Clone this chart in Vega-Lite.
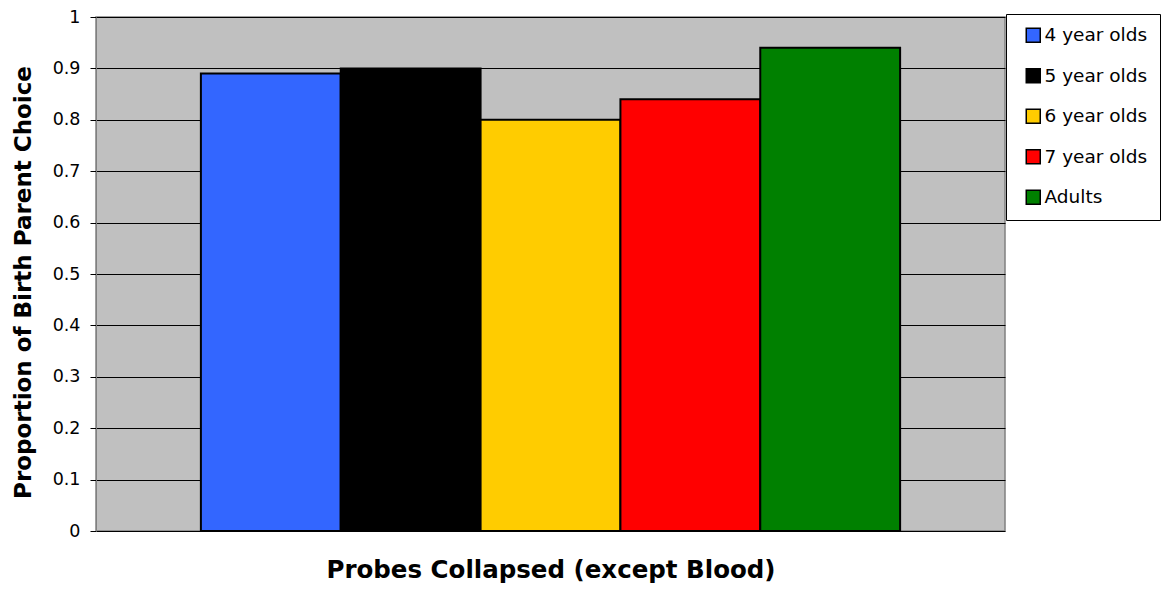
{
  "$schema": "https://vega.github.io/schema/vega-lite/v6.json",
  "autosize": "none",
  "width": 909,
  "height": 514,
  "padding": {"left": 96, "top": 17, "right": 159, "bottom": 62},
  "background": "white",
  "config": {
    "font": "DejaVu Sans",
    "view": {"fill": "#C0C0C0", "stroke": "#808080", "strokeWidth": 1.5}
  },
  "data": {
    "values": [
      {"group": "4 year olds", "value": 0.89},
      {"group": "5 year olds", "value": 0.90},
      {"group": "6 year olds", "value": 0.80},
      {"group": "7 year olds", "value": 0.84},
      {"group": "Adults", "value": 0.94}
    ]
  },
  "mark": {"type": "bar", "stroke": "black", "strokeWidth": 2},
  "encoding": {
    "x": {
      "field": "group",
      "type": "nominal",
      "sort": null,
      "scale": {"paddingInner": 0, "paddingOuter": 0.75},
      "axis": {
        "title": "Probes Collapsed (except Blood)",
        "titleFont": "DejaVu Sans",
        "titleFontSize": 24.5,
        "titleFontWeight": "bold",
        "titleColor": "black",
        "titlePadding": 27,
        "labels": false,
        "ticks": false,
        "domain": false,
        "grid": false
      }
    },
    "y": {
      "field": "value",
      "type": "quantitative",
      "scale": {"domain": [0, 1]},
      "axis": {
        "title": "Proportion of Birth Parent Choice",
        "titleFont": "DejaVu Sans",
        "titleFontSize": 23,
        "titleFontWeight": "bold",
        "titleColor": "black",
        "titlePadding": 17,
        "titleY": 265,
        "values": [0, 0.1, 0.2, 0.3, 0.4, 0.5, 0.6, 0.7, 0.8, 0.9, 1],
        "format": "~g",
        "labelFont": "DejaVu Sans",
        "labelFontSize": 17.5,
        "labelColor": "black",
        "labelPadding": 10,
        "tickSize": 6,
        "tickColor": "black",
        "domain": true,
        "domainColor": "#808080",
        "grid": true,
        "gridColor": "black",
        "gridOpacity": 1,
        "gridWidth": 1
      }
    },
    "color": {
      "field": "group",
      "type": "nominal",
      "sort": null,
      "scale": {
        "domain": ["4 year olds", "5 year olds", "6 year olds", "7 year olds", "Adults"],
        "range": ["#3366FF", "#000000", "#FFCC00", "#FF0000", "#008000"]
      },
      "legend": {
        "title": null,
        "orient": "none",
        "legendX": 910,
        "legendY": -3,
        "fillColor": "white",
        "strokeColor": "black",
        "padding": 12,
        "symbolType": "square",
        "symbolSize": 196,
        "symbolStrokeColor": "black",
        "symbolStrokeWidth": 1.5,
        "symbolOffset": 6,
        "labelFont": "DejaVu Sans",
        "labelFontSize": 18.5,
        "labelColor": "black",
        "labelOffset": 2,
        "rowPadding": 19.5
      }
    }
  }
}
